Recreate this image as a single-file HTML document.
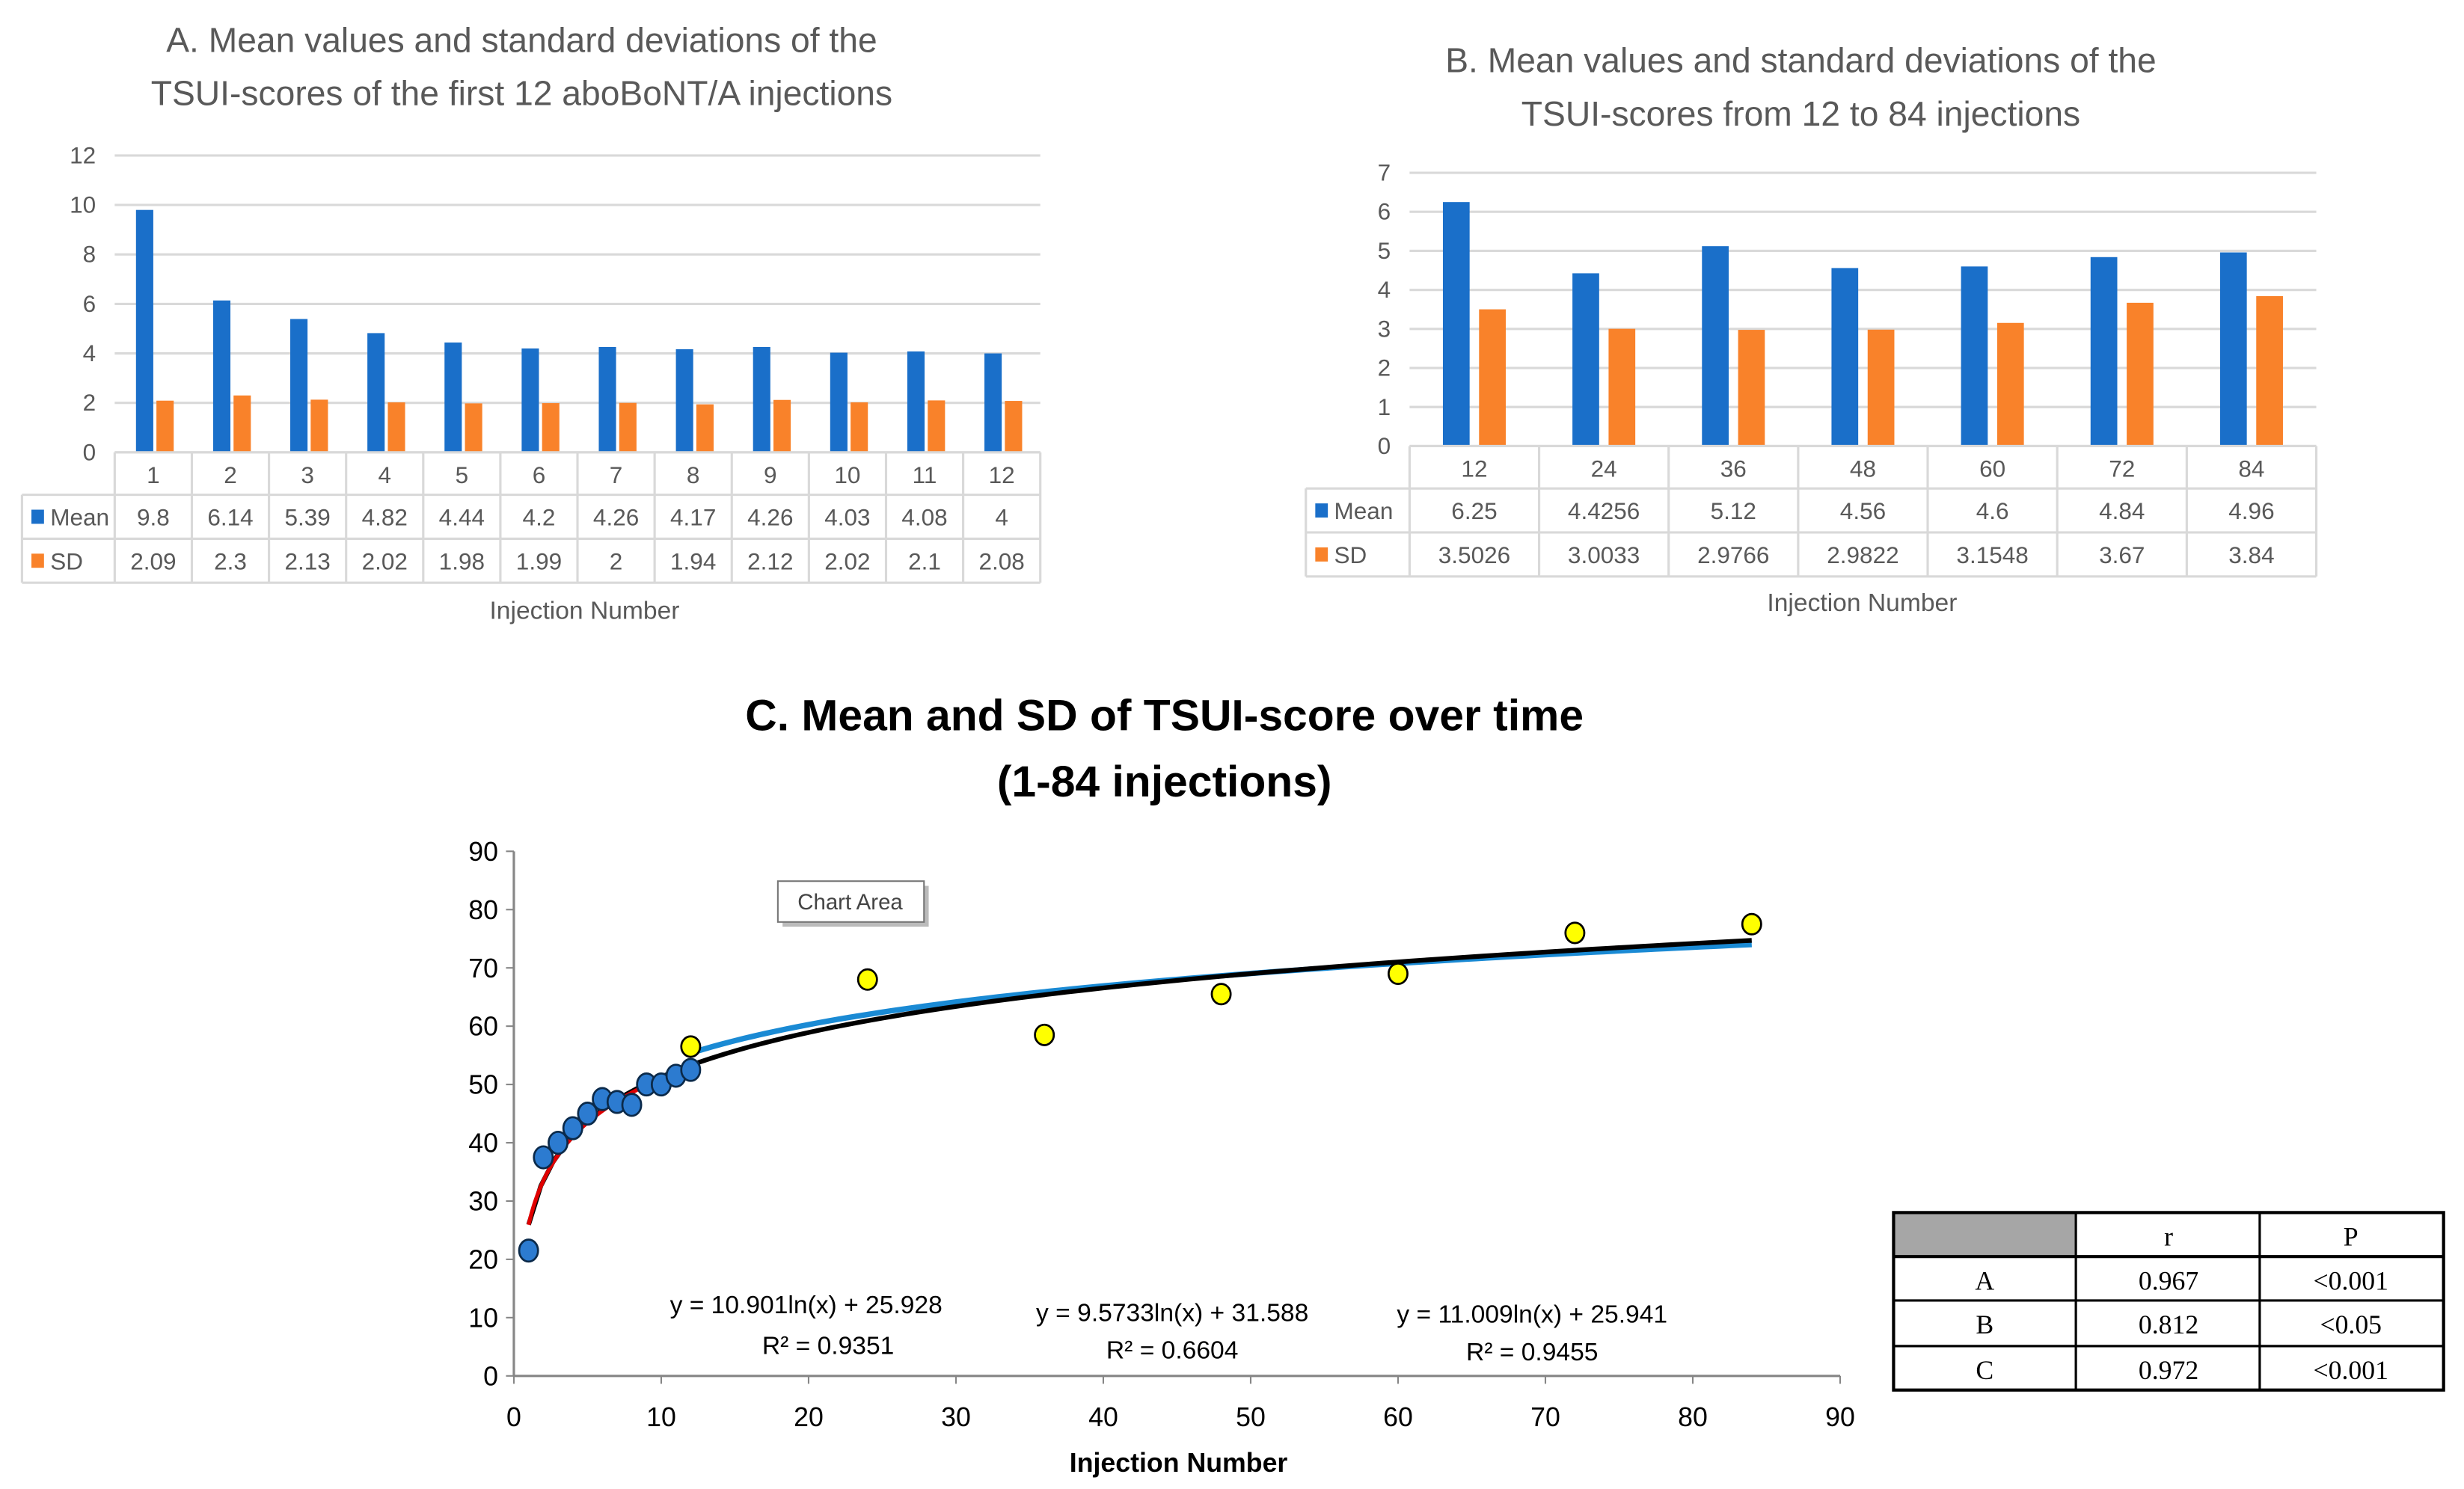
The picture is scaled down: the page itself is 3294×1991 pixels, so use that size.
<!DOCTYPE html>
<html><head><meta charset="utf-8"><style>
html,body{margin:0;padding:0;background:#fff;}
svg{display:block;}
text{font-family:"Liberation Sans",sans-serif;}
</style></head><body>
<svg id="s" xmlns="http://www.w3.org/2000/svg" width="3294" height="1991" viewBox="0 0 1568 948" preserveAspectRatio="none">
<g fill="#595959" font-size="22" text-anchor="middle">
<text x="332" y="33">A. Mean values and standard deviations of the</text>
<text x="332" y="67">TSUI-scores of the first 12 aboBoNT/A injections</text>
</g>
<g fill="#595959" font-size="22" text-anchor="middle">
<text x="1146" y="46">B. Mean values and standard deviations of the</text>
<text x="1146" y="80">TSUI-scores from 12 to 84 injections</text>
</g>
<g fill="#000" font-size="28" font-weight="bold" text-anchor="middle">
<text x="741" y="465">C. Mean and SD of TSUI-score over time</text>
<text x="741" y="507">(1-84 injections)</text>
</g>
<g id="ga"></g>
<g id="gb"></g>
<g id="gc"></g>
<g font-size="17" text-anchor="middle">
<rect x="1205" y="772" width="116" height="28" fill="#a6a6a6"/>
<rect x="1205" y="772" width="350" height="113" fill="none" stroke="#000" stroke-width="2"/>
<line x1="1321" y1="772" x2="1321" y2="885" stroke="#000" stroke-width="1.5"/>
<line x1="1438" y1="772" x2="1438" y2="885" stroke="#000" stroke-width="1.5"/>
<line x1="1205" y1="800" x2="1555" y2="800" stroke="#000" stroke-width="2"/>
<line x1="1205" y1="828" x2="1555" y2="828" stroke="#000" stroke-width="1.5"/>
<line x1="1205" y1="857" x2="1555" y2="857" stroke="#000" stroke-width="1.5"/>
<g style="font-family:'Liberation Serif',serif">
<text style="font-family:'Liberation Serif',serif" x="1380" y="793">r</text><text style="font-family:'Liberation Serif',serif" x="1496" y="793">P</text>
<text style="font-family:'Liberation Serif',serif" x="1263" y="821">A</text><text style="font-family:'Liberation Serif',serif" x="1380" y="821">0.967</text><text style="font-family:'Liberation Serif',serif" x="1496" y="821">&lt;0.001</text>
<text style="font-family:'Liberation Serif',serif" x="1263" y="849">B</text><text style="font-family:'Liberation Serif',serif" x="1380" y="849">0.812</text><text style="font-family:'Liberation Serif',serif" x="1496" y="849">&lt;0.05</text>
<text style="font-family:'Liberation Serif',serif" x="1263" y="878">C</text><text style="font-family:'Liberation Serif',serif" x="1380" y="878">0.972</text><text style="font-family:'Liberation Serif',serif" x="1496" y="878">&lt;0.001</text>
</g>
</g>
</svg>
<script>
const aCategories=["1","2","3","4","5","6","7","8","9","10","11","12"];
const aMean=[9.8,6.14,5.39,4.82,4.44,4.2,4.26,4.17,4.26,4.03,4.08,4];
const aSD=[2.09,2.3,2.13,2.02,1.98,1.99,2,1.94,2.12,2.02,2.1,2.08];
const aTicks=[0,2,4,6,8,10,12];
const bCategories=["12","24","36","48","60","72","84"];
const bMean=[6.25,4.4256,5.12,4.56,4.6,4.84,4.96];
const bMeanLabels=["6.25","4.4256","5.12","4.56","4.6","4.84","4.96"];
const bSD=[3.5026,3.0033,2.9766,2.9822,3.1548,3.67,3.84];
const bSDLabels=["3.5026","3.0033","2.9766","2.9822","3.1548","3.67","3.84"];
const bTicks=[0,1,2,3,4,5,6,7];
const cEarlyX=[1,2,3,4,5,6,7,8,9,10,11,12];
const cEarlyY=[21.5,37.5,40,42.5,45,47.5,47,46.5,50,50,51.5,52.5];
const cLateX=[12,24,36,48,60,72,84];
const cLateY=[56.5,68,58.5,65.5,69,76,77.5];
const cXTicks=[0,10,20,30,40,50,60,70,80,90];
const cYTicks=[0,10,20,30,40,50,60,70,80,90];
const trendA=[10.901,25.928,1,12];
const trendB=[9.5733,31.588,12,84];
const trendAll=[11.009,25.941,1,84];
const NS="http://www.w3.org/2000/svg";
function mk(p,t,a,txt){const e=document.createElementNS(NS,t);for(const k in a)e.setAttribute(k,a[k]);if(txt!==undefined)e.textContent=txt;p.appendChild(e);return e;}
const BLUE="#1a6fc9",ORANGE="#f9822a",GRID="#d9d9d9",TXT="#595959";

function barChart(g,cats,s1,s2,l1,l2,ticks,x0,x1,yTop,yBot,maxV,labX,bw,o1,o2,r1,r2,r3,xtitleX,xtitleY,fs){
  const y=v=>yBot-(v/maxV)*(yBot-yTop);
  const cw=(x1-x0)/cats.length;
  const xc=i=>x0+cw*(i+0.5);
  ticks.forEach(t=>{
    const l=mk(g,'line',{x1:x0,x2:x1,y1:y(t),y2:y(t),stroke:GRID,'stroke-width':1.5});
    
    
    const tx=mk(g,'text',{x:x0-12,y:y(t)+5,'text-anchor':'end','font-size':fs,fill:TXT},t);
    
    
  });
  cats.forEach((c,i)=>{
    const b=mk(g,'rect',{x:xc(i)+o1,y:y(s1[i]),width:bw,height:yBot-y(s1[i]),fill:BLUE});
    
    
    const b2=mk(g,'rect',{x:xc(i)+o2,y:y(s2[i]),width:bw,height:yBot-y(s2[i]),fill:ORANGE});
    
    
  });
  const tg=mk(g,'g',{});
  
  
  mk(tg,'line',{x1:x0,x2:x1,y1:r1,y2:r1,stroke:GRID,'stroke-width':1.5});
  [r2,r3,r3+(r3-r2)].forEach(r=>mk(tg,'line',{x1:labX,x2:x1,y1:r,y2:r,stroke:GRID,'stroke-width':1.5}));
  mk(tg,'line',{x1:labX,x2:labX,y1:r2,y2:r3+(r3-r2),stroke:GRID,'stroke-width':1.5});
  for(let i=0;i<=cats.length;i++){mk(tg,'line',{x1:x0+cw*i,x2:x0+cw*i,y1:r1,y2:r3+(r3-r2),stroke:GRID,'stroke-width':1.5});}
  const rh=r2-r1;
  cats.forEach((c,i)=>{
    mk(tg,'text',{x:xc(i),y:r1+rh/2+6,'text-anchor':'middle','font-size':fs,fill:TXT},c);
    mk(tg,'text',{x:xc(i),y:r2+rh/2+6,'text-anchor':'middle','font-size':fs,fill:TXT},l1[i]);
    mk(tg,'text',{x:xc(i),y:r3+rh/2+6,'text-anchor':'middle','font-size':fs,fill:TXT},l2[i]);
  });
  mk(tg,'rect',{x:labX+6,y:r2+rh/2-4,width:8,height:9,fill:BLUE});
  mk(tg,'text',{x:labX+18,y:r2+rh/2+6,'font-size':fs,fill:TXT},'Mean');
  mk(tg,'rect',{x:labX+6,y:r3+rh/2-4,width:8,height:9,fill:ORANGE});
  mk(tg,'text',{x:labX+18,y:r3+rh/2+6,'font-size':fs,fill:TXT},'SD');
  const xt=mk(g,'text',{x:xtitleX,y:xtitleY,'text-anchor':'middle','font-size':fs+1,fill:TXT},'Injection Number');
  
  
}
barChart(document.getElementById('ga'),aCategories,aMean,aSD,aMean.map(String),aSD.map(String),aTicks,73,662,99,288,12,14,11,-11,2,288,315,343,372,394,15);
barChart(document.getElementById('gb'),bCategories,bMean,bSD,bMeanLabels,bSDLabels,bTicks,897,1474,110,284,7,831,17,-20,3,284,311,339,1185,389,15);

(function(){
  const g=document.getElementById('gc');
  const X0=327,X1=1171,Y0=876,Y1=542;
  const sx=v=>X0+v/90*(X1-X0), sy=v=>Y0-v/90*(Y0-Y1);
  mk(g,'line',{x1:X0,x2:X0,y1:Y1,y2:Y0,stroke:'#868686','stroke-width':1.5});
  mk(g,'line',{x1:X0,x2:X1,y1:Y0,y2:Y0,stroke:'#868686','stroke-width':1.5});
  cYTicks.forEach(t=>{
    mk(g,'line',{x1:X0-5,x2:X0,y1:sy(t),y2:sy(t),stroke:'#868686'});
    const tx=mk(g,'text',{x:X0-10,y:sy(t)+6,'text-anchor':'end','font-size':17,fill:'#000'},t);
    
    
  });
  cXTicks.forEach(t=>{
    mk(g,'line',{x1:sx(t),x2:sx(t),y1:Y0,y2:Y0+5,stroke:'#868686'});
    const tx=mk(g,'text',{x:sx(t),y:Y0+32,'text-anchor':'middle','font-size':17,fill:'#000'},t);
    
    
  });
  const xt=mk(g,'text',{x:750,y:937,'text-anchor':'middle','font-size':17,'font-weight':'bold',fill:'#000'},'Injection Number');
  
  
  function trend(c,col,w,name){
    let d='';for(let i=0;i<=100;i++){const x=c[2]+(c[3]-c[2])*i/100;const yv=c[0]*Math.log(x)+c[1];d+=(i?'L':'M')+sx(x).toFixed(2)+','+sy(yv).toFixed(2);}
    const p=mk(g,'path',{d:d,fill:'none',stroke:col,'stroke-width':w});
    
    
  }
  trend(trendB,'#1a8ad4',3.5,'trendline-late');
  trend(trendAll,'#000',3,'trendline-all');
  trend(trendA,'#e00000',2.5,'trendline-early');
  cEarlyX.forEach((x,i)=>{
    const c=mk(g,'ellipse',{cx:sx(x),cy:sy(cEarlyY[i]),rx:6,ry:7,fill:'#2c7bd0',stroke:'#0b2a4a','stroke-width':1.3});
    
    
  });
  cLateX.forEach((x,i)=>{
    const c=mk(g,'ellipse',{cx:sx(x),cy:sy(cLateY[i]),rx:6,ry:6.5,fill:'#ffff00',stroke:'#000','stroke-width':1.3});
    
    
  });
  mk(g,'rect',{x:498,y:564,width:93,height:26,fill:'#bbb'});
  const ca=mk(g,'rect',{x:495,y:561,width:93,height:26,fill:'#fff',stroke:'#777','stroke-width':1});
  
  
  mk(g,'text',{x:541,y:579,'text-anchor':'middle','font-size':14,fill:'#444'},'Chart Area');
  const eqs=[[513,836,'y = 10.901ln(x) + 25.928',527,862,'R² = 0.9351'],[746,841,'y = 9.5733ln(x) + 31.588',746,865,'R² = 0.6604'],[975,842,'y = 11.009ln(x) + 25.941',975,866,'R² = 0.9455']];
  eqs.forEach(e=>{
    const t=mk(g,'text',{x:e[0],y:e[1],'text-anchor':'middle','font-size':16,fill:'#000'},e[2]);
    
    
    mk(g,'text',{x:e[3],y:e[4],'text-anchor':'middle','font-size':16,fill:'#000'},e[5]);
  });
})();
</script>
</body></html>
